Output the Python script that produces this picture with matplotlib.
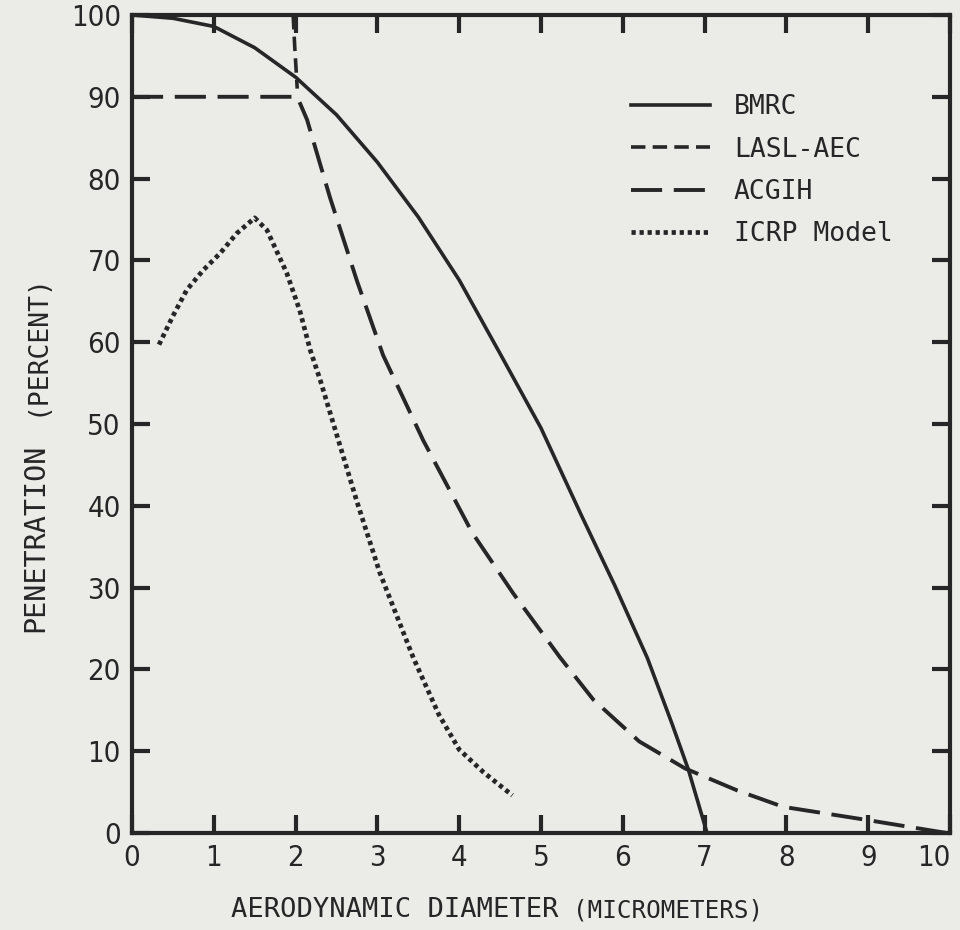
import matplotlib
matplotlib.use("Agg")
import matplotlib.pyplot as plt
from matplotlib.offsetbox import TextArea, HPacker, VPacker, AnchoredOffsetbox

# curves (diameter in micrometers, penetration in %)
bmrc_x = [0, 0.5, 1.0, 1.5, 2.0, 2.5, 3.0, 3.5, 4.0, 4.5, 5.0, 5.5, 5.9, 6.3, 6.6, 6.8, 7.03]
bmrc_y = [100, 99.6, 98.6, 96.0, 92.4, 87.8, 82.0, 75.3, 67.6, 58.6, 49.5, 38.7, 30.3, 21.4, 13.4, 7.8, 0]

lasl_x = [1.97, 1.99, 2.02]
lasl_y = [100, 96, 91]

acgih_x = [0, 1.97, 2.02, 2.14, 2.42, 2.75, 3.07, 3.56, 4.16, 4.66, 5.23, 5.64, 6.2, 6.76, 7.4, 7.96, 8.98, 9.96]
acgih_y = [90, 90, 90, 87.2, 77.7, 67.5, 58.4, 48, 36.7, 29.3, 21.5, 16.3, 11.2, 7.9, 5.2, 3.2, 1.6, 0]

icrp_x = [0.33, 0.5, 0.67, 0.87, 1.08, 1.28, 1.5, 1.65, 1.89, 2.05, 2.18, 2.3, 2.46, 2.75, 3.03, 3.44, 3.75, 4.0, 4.3, 4.65]
icrp_y = [59.7, 63.2, 66.4, 68.8, 70.9, 73.3, 75.2, 73.7, 68.5, 63.9, 59.0, 55.4, 50.1, 40.5, 31.8, 21.4, 14.5, 10.2, 7.4, 4.6]

xticks = list(range(0, 11))
yticks = list(range(0, 101, 10))

ink = "#262626"
bg = "#ebebe7"
mono = "DejaVu Sans Mono"
plt.rcParams["font.family"] = ["DejaVu Sans"]
plt.rcParams["font.stretch"] = "condensed"

fig = plt.figure(figsize=(9.6, 9.3), dpi=100, facecolor=bg)
ax = fig.add_axes([132 / 960, 97 / 930, 818 / 960, 818 / 930], facecolor=bg)

ax.plot(bmrc_x, bmrc_y, color=ink, lw=2.6, label="BMRC")
ax.plot(lasl_x, lasl_y, color=ink, lw=2.6, dashes=(4, 2), label="LASL-AEC")
ax.plot(acgih_x, acgih_y, color=ink, lw=2.8, dashes=(8, 3), label="ACGIH")
ax.plot(icrp_x, icrp_y, color=ink, lw=3.4, dashes=(0.9, 0.8), label="ICRP Model")

ax.set_xlim(0, 10)
ax.set_ylim(0, 100)
ax.set_xticks(xticks)
ax.set_yticks(yticks)
ax.tick_params(direction="in", length=13, width=3, color=ink, labelsize=21,
               labelcolor=ink, top=True, right=True, pad=8)
for s in ax.spines.values():
    s.set_linewidth(3)
    s.set_color(ink)
# keep "10" inside the picture
ax.get_xticklabels()[-1].set_horizontalalignment("right")

ax.legend(loc="upper left", bbox_to_anchor=(0.61, 0.903), frameon=False,
          prop={"family": mono, "size": 19}, handlelength=3.0, labelspacing=0.62,
          handletextpad=0.9, borderpad=0, borderaxespad=0, labelcolor=ink)

# axis titles, small-caps look for the parenthesis
xl = HPacker(children=[TextArea("AERODYNAMIC DIAMETER", textprops=dict(size=19.5, color=ink, family=mono)),
                       TextArea("(MICROMETERS)", textprops=dict(size=17.5, color=ink, family=mono))],
             align="baseline", pad=0, sep=10)
ab = AnchoredOffsetbox(loc="upper left", child=xl, frameon=False,
                       bbox_to_anchor=(0.113, -0.07), bbox_transform=ax.transAxes, pad=0)
ax.add_artist(ab)

yl = VPacker(children=[TextArea("(PERCENT)", textprops=dict(size=19, color=ink, rotation=90, family=mono)),
                       TextArea("PENETRATION", textprops=dict(size=20.5, color=ink, rotation=90, family=mono))],
             align="right", pad=0, sep=20)
ab2 = AnchoredOffsetbox(loc="lower center", child=yl, frameon=False,
                        bbox_to_anchor=(-0.118, 0.237), bbox_transform=ax.transAxes, pad=0)
ax.add_artist(ab2)

fig.savefig("out.png", dpi=100, facecolor=bg)
